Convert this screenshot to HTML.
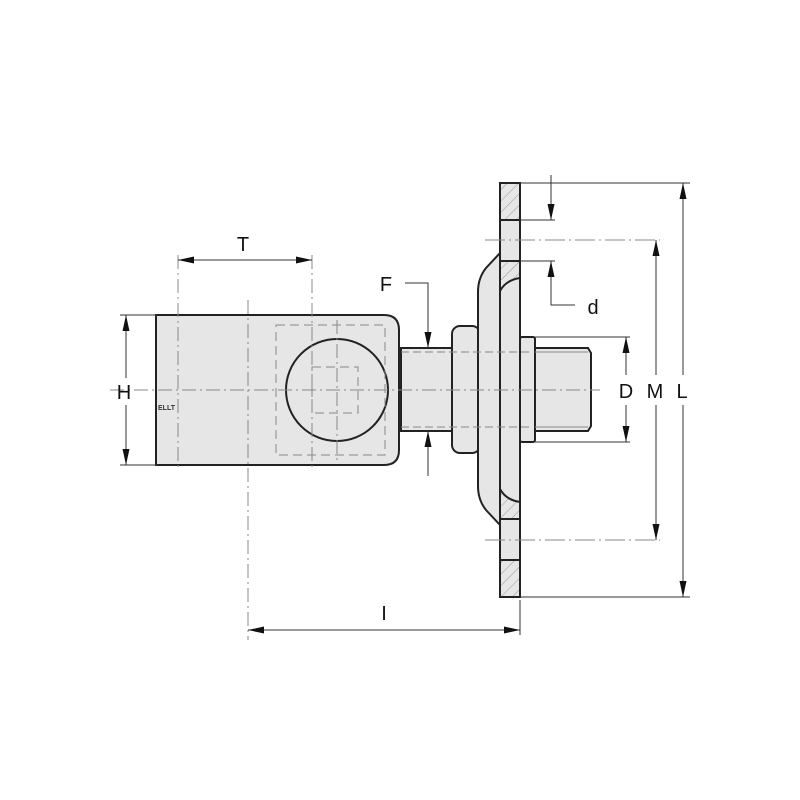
<!DOCTYPE html>
<html><head><meta charset="utf-8"><style>body{margin:0;background:#fff}svg{display:block}</style></head>
<body>
<svg width="800" height="800" viewBox="0 0 800 800" xmlns="http://www.w3.org/2000/svg" font-family="Liberation Sans, sans-serif">
<defs>
<pattern id="h" width="8" height="8" patternUnits="userSpaceOnUse" patternTransform="rotate(45)"><rect width="8" height="8" fill="#e6e6e6"/><line x1="0" y1="0" x2="0" y2="8" stroke="#999" stroke-width="1"/></pattern>
<marker id="a" markerWidth="16" markerHeight="7" refX="16" refY="3.5" orient="auto" markerUnits="userSpaceOnUse"><path d="M0,0L16,3.5L0,7z" fill="#111"/></marker>
</defs>
<g stroke="#222" stroke-width="2" fill="#e6e6e6">
<path d="M156,315H384Q399,315 399,330V450Q399,465 384,465H156Z"/>
<rect x="401" y="348" width="51" height="83"/>
<rect x="452" y="326" width="28" height="127" rx="8"/>
<path d="M500,253L486,268Q478,278 478,292V486Q478,500 486,510L500,525Z"/>
<rect x="500" y="183" width="20" height="414"/>
<rect x="500" y="183" width="20" height="37" fill="url(#h)"/>
<path d="M500,261H520V278Q506,280 500,291Z" fill="url(#h)"/>
<path d="M500,519H520V502Q506,500 500,489Z" fill="url(#h)"/>
<rect x="500" y="560" width="20" height="37" fill="url(#h)"/>
<line x1="500" y1="220" x2="520" y2="220"/><line x1="500" y1="261" x2="520" y2="261"/>
<line x1="500" y1="519" x2="520" y2="519"/><line x1="500" y1="560" x2="520" y2="560"/>
<rect x="520" y="337" width="15" height="105" rx="2"/>
<path d="M535,348H588L591,353V426L588,431H535Z"/>
<circle cx="337" cy="390" r="51" fill="none"/>
</g>
<g stroke="#888" stroke-width="1" fill="none">
<line x1="535" y1="352" x2="588" y2="352"/><line x1="535" y1="427" x2="588" y2="427"/>
<line x1="401" y1="352" x2="530" y2="352" stroke-dasharray="8 4"/><line x1="401" y1="427" x2="530" y2="427" stroke-dasharray="8 4"/>
<rect x="276" y="325" width="109" height="130" stroke-dasharray="9 5"/>
<rect x="312" y="367" width="46" height="46" stroke-dasharray="9 5"/>
<path d="M110,390H600M248,300V640M337,320V460M178,255V470M312,255V470" stroke-dasharray="14 4 2 4"/>
<path d="M485,240H660M485,540H660" stroke-dasharray="20 4 2 4"/>
</g>
<g stroke="#333" stroke-width="1" fill="none">
<line x1="120" y1="315" x2="158" y2="315"/><line x1="120" y1="465" x2="158" y2="465"/>
<line x1="126" y1="378" x2="126" y2="315" marker-end="url(#a)"/><line x1="126" y1="405" x2="126" y2="465" marker-end="url(#a)"/>
<line x1="245" y1="260" x2="178" y2="260" marker-end="url(#a)"/><line x1="245" y1="260" x2="312" y2="260" marker-end="url(#a)"/>
<path d="M405,283H428V348" marker-end="url(#a)"/><line x1="428" y1="476" x2="428" y2="431" marker-end="url(#a)"/>
<line x1="383" y1="630" x2="248" y2="630" marker-end="url(#a)"/><line x1="383" y1="630" x2="520" y2="630" marker-end="url(#a)"/>
<line x1="520" y1="600" x2="520" y2="635"/>
<line x1="520" y1="183" x2="690" y2="183"/><line x1="520" y1="597" x2="690" y2="597"/>
<line x1="683" y1="375" x2="683" y2="183" marker-end="url(#a)"/><line x1="683" y1="405" x2="683" y2="597" marker-end="url(#a)"/>
<line x1="656" y1="375" x2="656" y2="240" marker-end="url(#a)"/><line x1="656" y1="405" x2="656" y2="540" marker-end="url(#a)"/>
<line x1="535" y1="337" x2="630" y2="337"/><line x1="535" y1="442" x2="630" y2="442"/>
<line x1="626" y1="375" x2="626" y2="337" marker-end="url(#a)"/><line x1="626" y1="405" x2="626" y2="442" marker-end="url(#a)"/>
<line x1="520" y1="220" x2="555" y2="220"/><line x1="520" y1="261" x2="555" y2="261"/>
<line x1="551" y1="175" x2="551" y2="220" marker-end="url(#a)"/><path d="M575,305H551V261" marker-end="url(#a)"/>
</g>
<g font-size="20" fill="#111" text-anchor="middle">
<text x="243" y="251">T</text><text x="124" y="399">H</text><text x="386" y="291">F</text>
<text x="384" y="620">I</text><text x="593" y="314">d</text>
<text x="626" y="398">D</text><text x="655" y="398">M</text><text x="682" y="398">L</text>
</g>
<text x="158" y="410" font-size="7" font-weight="bold" fill="#333">ELLT</text>
</svg>
</body></html>
